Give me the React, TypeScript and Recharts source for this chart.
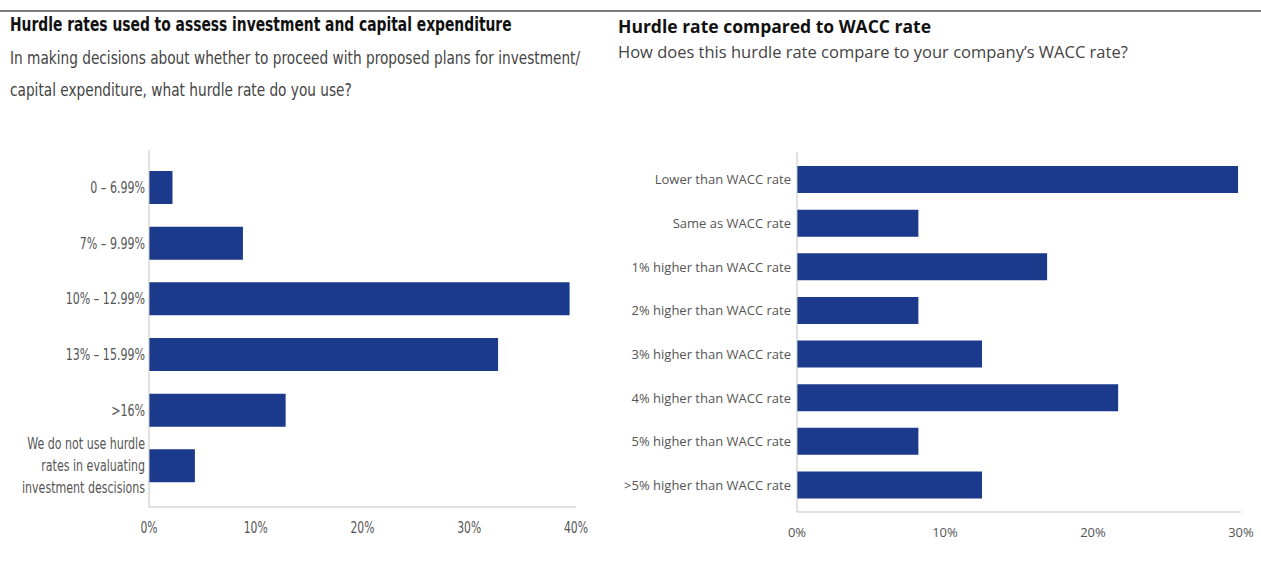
import React from 'react'
import { BarChart, Bar, XAxis, YAxis } from 'recharts'

// left panel: hurdle rates
const hurdleBands = [
  '0 – 6.99%',
  '7% – 9.99%',
  '10% – 12.99%',
  '13% – 15.99%',
  '>16%',
  'We do not use hurdle|rates in evaluating|investment descisions',
]
const hurdleShare = [2.2, 8.8, 39.4, 32.7, 12.8, 4.3]
const hurdleTicks = [0, 10, 20, 30, 40]

// right panel: hurdle vs WACC
const waccBands = [
  'Lower than WACC rate',
  'Same as WACC rate',
  '1% higher than WACC rate',
  '2% higher than WACC rate',
  '3% higher than WACC rate',
  '4% higher than WACC rate',
  '5% higher than WACC rate',
  '>5% higher than WACC rate',
]
const waccShare = [29.8, 8.2, 16.9, 8.2, 12.5, 21.7, 8.2, 12.5]
const waccTicks = [0, 10, 20, 30]

const NAVY = '#1c3a8c'
const AXIS = '#c4c4c4'
const NARROW = "'DejaVu Sans Condensed', 'DejaVu Sans', sans-serif"
const SANS = "'Open Sans', 'Noto Sans', sans-serif"

const hurdleData = hurdleBands.map((b, i) => ({ band: b, share: hurdleShare[i] }))
const waccData = waccBands.map((b, i) => ({ band: b, share: waccShare[i] }))

const pct = (v: number) => `${v}%`

// category label, split on '|' and squeezed horizontally by sx
function BandTick({ x, y, payload, font, size, sx = 1 }: any) {
  const lines = String(payload.value).split('|')
  const lh = 22
  const start = -((lines.length - 1) * lh) / 2
  return (
    <g transform={`translate(${x},${y}) scale(${sx},1)`}>
      <text x={0} y={0} textAnchor="end" fill="#555" fontFamily={font} fontSize={size}>
        {lines.map((l, i) => (
          <tspan key={i} x={0} y={start + i * lh} dy="0.35em">{l}</tspan>
        ))}
      </text>
    </g>
  )
}

function PctTick({ x, y, payload, font, size, sx = 1 }: any) {
  return (
    <g transform={`translate(${x},${y}) scale(${sx},1)`}>
      <text x={0} y={0} dy="0.71em" textAnchor="middle" fill="#555" fontFamily={font} fontSize={size}>
        {pct(payload.value)}
      </text>
    </g>
  )
}

const squeeze = (sx: number): React.CSSProperties => ({
  transform: `scaleX(${sx})`,
  transformOrigin: 'left top',
  whiteSpace: 'nowrap',
})

export default function App() {
  return (
    <div style={{ position: 'absolute', left: 0, top: 0, width: 1261, height: 563, background: '#fff', overflow: 'hidden' }}>
      <div style={{ position: 'absolute', left: 0, top: 10, width: 1261, height: 2, background: '#7a7a7a' }} />

      <div style={{ position: 'absolute', left: 10, top: 13, fontFamily: NARROW, fontWeight: 700, fontSize: 19, color: '#111', ...squeeze(0.81) }}>
        Hurdle rates used to assess investment and capital expenditure
      </div>
      <div style={{ position: 'absolute', left: 10, top: 42, fontFamily: NARROW, fontSize: 17, lineHeight: '32px', color: '#444', ...squeeze(0.895) }}>
        In making decisions about whether to proceed with proposed plans for investment/<br />
        capital expenditure, what hurdle rate do you use?
      </div>

      <div style={{ position: 'absolute', left: 618, top: 14, fontFamily: SANS, fontWeight: 700, fontSize: 17.5, color: '#111', whiteSpace: 'nowrap' }}>
        Hurdle rate compared to WACC rate
      </div>
      <div style={{ position: 'absolute', left: 618, top: 40, fontFamily: SANS, fontSize: 16.5, color: '#444', whiteSpace: 'nowrap' }}>
        How does this hurdle rate compare to your company’s WACC rate?
      </div>

      <div style={{ position: 'absolute', left: 0, top: 0 }}>
        <BarChart width={600} height={563} data={hurdleData} layout="vertical"
          margin={{ top: 150, right: 24, bottom: 26, left: 0 }}>
          <XAxis type="number" domain={[0, 40]} ticks={hurdleTicks}
            axisLine={{ stroke: AXIS }} tickLine={false} tickSize={0} tickMargin={15} height={30} interval={0}
            tick={<PctTick font={NARROW} size={15} sx={0.8} />} />
          <YAxis type="category" dataKey="band" width={149} padding={{ top: 10, bottom: 13 }}
            axisLine={{ stroke: AXIS }} tickLine={false} tickSize={0} tickMargin={4} interval={0}
            tick={<BandTick font={NARROW} size={15} sx={0.82} />} />
          <Bar dataKey="share" fill={NAVY} barSize={33} isAnimationActive={false} />
        </BarChart>
      </div>

      <div style={{ position: 'absolute', left: 610, top: 0 }}>
        <BarChart width={651} height={563} data={waccData} layout="vertical"
          margin={{ top: 152, right: 20, bottom: 21, left: 0 }}>
          <XAxis type="number" domain={[0, 30]} ticks={waccTicks}
            axisLine={{ stroke: AXIS }} tickLine={false} tickSize={0} tickMargin={16} height={30} interval={0}
            tick={<PctTick font={SANS} size={13} />} />
          <YAxis type="category" dataKey="band" width={187} padding={{ top: 6, bottom: 5 }}
            axisLine={{ stroke: AXIS }} tickLine={false} tickSize={0} tickMargin={6} interval={0}
            tick={<BandTick font={SANS} size={13} />} />
          <Bar dataKey="share" fill={NAVY} barSize={27} isAnimationActive={false} />
        </BarChart>
      </div>
    </div>
  )
}
